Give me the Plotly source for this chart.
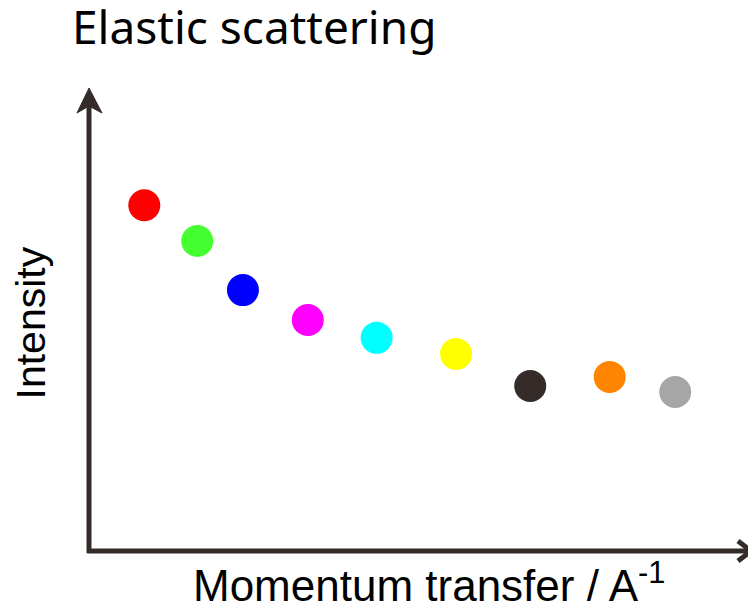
import plotly.graph_objects as go

# Data (arbitrary units)
momentum = [0.82, 1.62, 2.31, 3.29, 4.33, 5.53, 6.65, 7.85, 8.84]
intensity = [7.49, 6.71, 5.64, 4.99, 4.60, 4.25, 3.55, 3.75, 3.42]
colors = ["#ff0000", "#45ff30", "#0000ff", "#ff00ff", "#00ffff",
          "#ffff00", "#352c2a", "#ff8400", "#a6a6a6"]

title_text = "Elastic scattering"
x_title = "Momentum transfer / A<sup>-1</sup>"
y_title = "Intensity"

axis_color = "#352c2a"
label_font = "Liberation Sans, Arial, Helvetica, sans-serif"

fig = go.Figure()
fig.add_trace(go.Scatter(
    x=momentum, y=intensity, mode="markers",
    marker=dict(size=32, color=colors, line=dict(width=0)),
    hoverinfo="skip", showlegend=False,
))

def pix_shape(**kw):
    base = dict(xref="paper", yref="paper", xsizemode="pixel", ysizemode="pixel",
                xanchor=0, yanchor=0)
    base.update(kw)
    return base

shapes = [
    # vertical axis line
    pix_shape(type="line", x0=-1, x1=-1, y0=-4, y1=447,
              line=dict(color=axis_color, width=5)),
    # vertical arrow head (filled, notched)
    pix_shape(type="path", path="M -1 461 L -13 436 L -1 443 L 12 436 Z",
              fillcolor=axis_color, line=dict(color=axis_color, width=1)),
    # horizontal axis line
    pix_shape(type="line", x0=-3, x1=661, y0=-2, y1=-2,
              line=dict(color=axis_color, width=5)),
    # horizontal arrow head (open chevron)
    pix_shape(type="path", path="M 648 8 L 661 -2 L 648 -12",
              line=dict(color=axis_color, width=5)),
]

fig.update_layout(
    width=748, height=601,
    margin=dict(l=82, r=4, t=82, b=60),
    paper_bgcolor="white", plot_bgcolor="white",
    xaxis=dict(range=[0, 10], visible=False, fixedrange=True),
    yaxis=dict(range=[0, 10], visible=False, fixedrange=True),
    shapes=shapes,
    title=dict(text=title_text, x=64/748, xanchor="left", xref="container",
               y=1-4/601, yanchor="top", yref="container",
               font=dict(family="Noto Sans", size=46, color="black")),
    annotations=[
        dict(text=y_title, xref="paper", yref="paper", x=0, y=0.5,
             xanchor="center", yanchor="middle",
             xshift=-60, yshift=-4, showarrow=False, textangle=-90,
             font=dict(family=label_font, size=41, color="black")),
        dict(text=x_title, xref="paper", yref="paper", x=0.5, y=0,
             xanchor="center", yanchor="bottom",
             xshift=8, yshift=-63, showarrow=False,
             font=dict(family=label_font, size=44, color="black")),
    ],
)

fig.write_html("out.html")
